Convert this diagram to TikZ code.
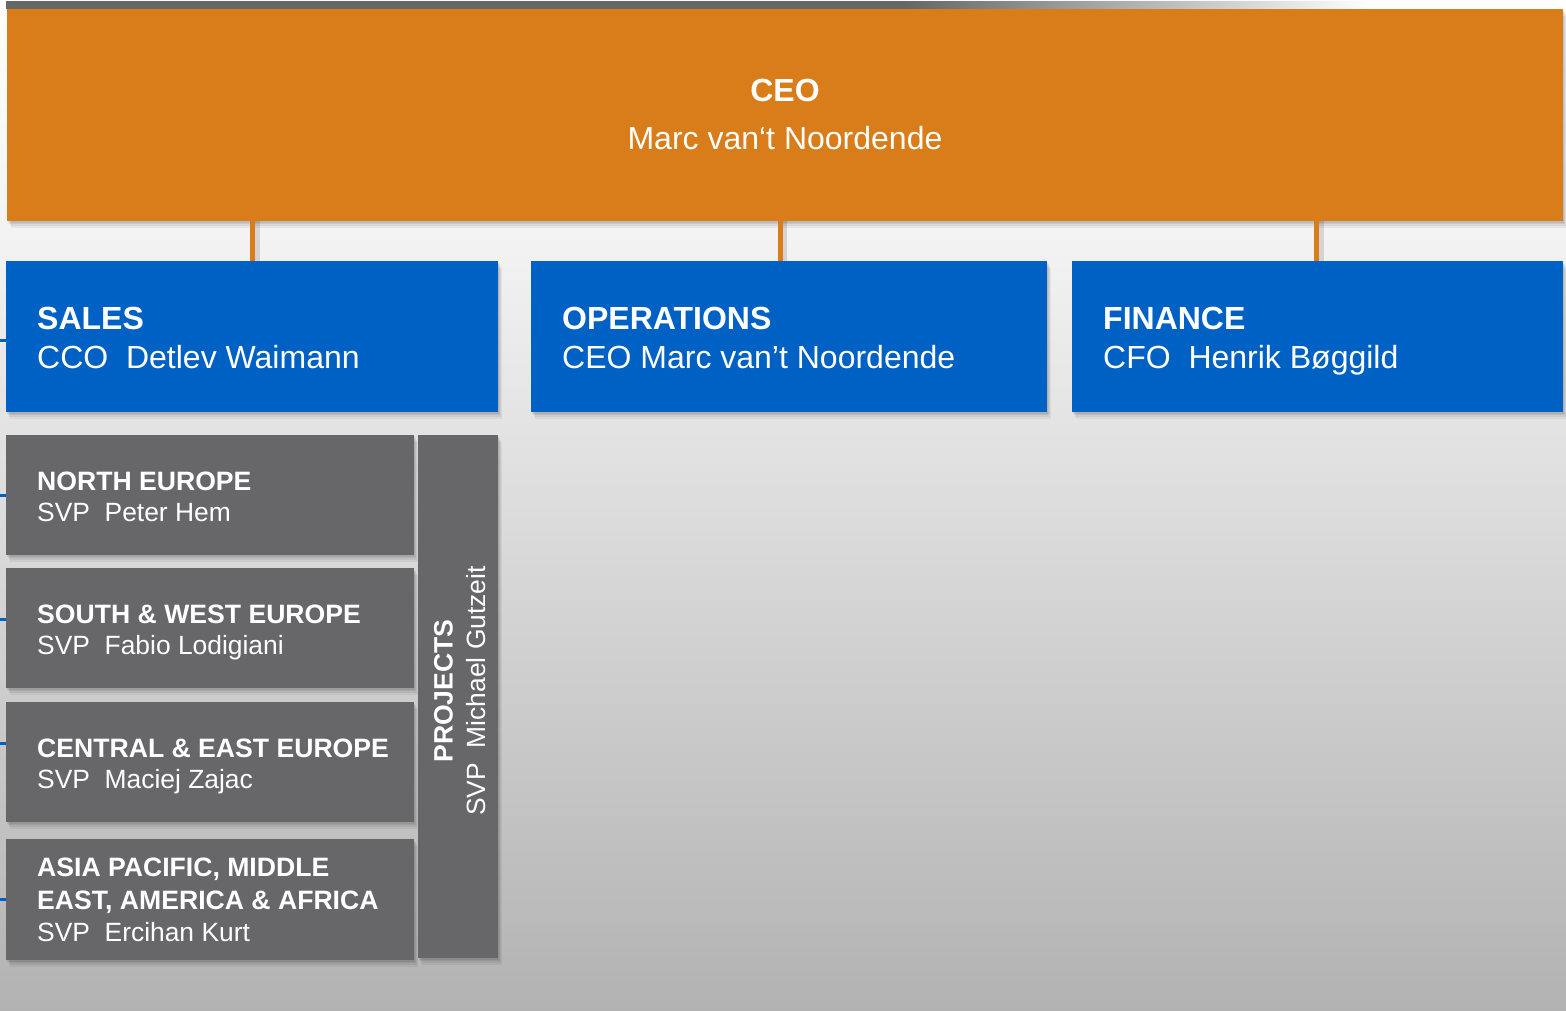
\documentclass[tikz,border=0pt]{standalone}
\usepackage{fontspec}
\setmainfont{Liberation Sans}
\usetikzlibrary{shadows,calc}
\definecolor{ceoorange}{HTML}{D97C1A}
\definecolor{deptblue}{HTML}{0061C4}
\definecolor{regiongray}{HTML}{67676A}
\definecolor{bgtop}{HTML}{F2F2F2}
\definecolor{bgbot}{HTML}{B2B2B2}
\definecolor{bargray}{HTML}{67676A}
\pgfdeclarehorizontalshading{barfade}{100bp}{color(0bp)=(bargray); color(58bp)=(bargray); color(75bp)=(white); color(100bp)=(white)}
\tikzset{
  softshadow/.style={
    general shadow={fill=black,opacity=0.07,shadow xshift=1pt,shadow yshift=-2pt},
    general shadow={fill=black,opacity=0.07,shadow xshift=2pt,shadow yshift=-3pt},
    general shadow={fill=black,opacity=0.06,shadow xshift=3pt,shadow yshift=-5pt},
    general shadow={fill=black,opacity=0.05,shadow xshift=4pt,shadow yshift=-7pt}},
  orgbox/.style={rectangle, inner sep=0pt, outer sep=0pt, anchor=north west, draw=none, softshadow},
  ceobox/.style={orgbox, fill=ceoorange},
  deptbox/.style={orgbox, fill=deptblue},
  regionbox/.style={orgbox, fill=regiongray},
  bigbold/.style={text=white, font=\fontsize{32}{38}\selectfont\bfseries, inner sep=0pt},
  bigname/.style={text=white, font=\fontsize{32}{38}\selectfont, inner sep=0pt},
  smallbold/.style={text=white, font=\fontsize{26.6}{31}\selectfont\bfseries, inner sep=0pt, anchor=base west},
  smallname/.style={text=white, font=\fontsize{26.4}{31}\selectfont, inner sep=0pt, anchor=base west},
  conn/.style={ceoorange, line width=5pt},
  connshadow/.style={black, opacity=0.12, line width=6pt},
  tickline/.style={deptblue, line width=3pt}
}
\begin{document}
\begin{tikzpicture}[x=1pt,y=-1pt]
\useasboundingbox (0,0) rectangle (1566,1011);
% background
\shade[top color=white, bottom color=bgtop] (0,0) rectangle (1566,250);
\shade[top color=bgtop, bottom color=bgbot] (0,250) rectangle (1566,1011);
% top bar
\shade[shading=barfade] (6,2) rectangle (1370,9);

\coordinate (opsTop) at (780,261);
\coordinate (salesTop) at (252.5,261);
\coordinate (finTop) at (1316.5,261);

% CEO box
\node[ceobox, minimum width=1556pt, minimum height=212pt] (ceo) at (7,9) {};
\node[bigbold, anchor=base] (ceoT1) at (785,101.5) {CEO};
\node[bigname, anchor=base] (ceoT2) at (785,149.3) {Marc van‘t Noordende};

% connector shadows
\draw[connshadow] ($(ceo.south -| salesTop)+(4,0)$) -- ($(salesTop)+(4,0)$);
\draw[connshadow] ($(ceo.south -| opsTop)+(4,0)$) -- ($(opsTop)+(4,0)$);
\draw[connshadow] ($(ceo.south -| finTop)+(4,0)$) -- ($(finTop)+(4,0)$);

% department boxes
\node[deptbox, minimum width=492pt, minimum height=151pt] (sales) at (6,261) {};
\node[deptbox, minimum width=516pt, minimum height=151pt] (ops) at (531,261) {};
\node[deptbox, minimum width=491pt, minimum height=151pt] (fin) at (1072,261) {};

\draw[conn] (ceo.south -| salesTop) -- (salesTop);
\draw[conn] (ceo.south -| opsTop) -- (opsTop);
\draw[conn] (ceo.south -| finTop) -- (finTop);

\node[bigbold, anchor=base west] (salesT1) at (37,329) {SALES};
\node[bigname, anchor=base west] (salesT2) at (37,368.5) {CCO\ \ Detlev Waimann};
\node[bigbold, anchor=base west] (opsT1) at (562,329) {OPERATIONS};
\node[bigname, anchor=base west] (opsT2) at (562,368.5) {CEO Marc van’t Noordende};
\node[bigbold, anchor=base west] (finT1) at (1103,329) {FINANCE};
\node[bigname, anchor=base west] (finT2) at (1103,368.5) {CFO\ \ Henrik Bøggild};

% region boxes
\node[regionbox, minimum width=408pt, minimum height=120pt] (north) at (6,435) {};
\node[regionbox, minimum width=408pt, minimum height=120pt] (south) at (6,568) {};
\node[regionbox, minimum width=408pt, minimum height=120pt] (central) at (6,702) {};
\node[regionbox, minimum width=408pt, minimum height=121pt] (asia) at (6,839) {};
\node[regionbox, minimum width=80pt, minimum height=523pt] (proj) at (418,435) {};

\node[smallbold] (northT1) at (37,490.7) {NORTH EUROPE};
\node[smallname] (northT2) at (37,521.7) {SVP\ \ Peter Hem};
\node[smallbold] (southT1) at (37,623.7) {SOUTH \& WEST EUROPE};
\node[smallname] (southT2) at (37,654.7) {SVP\ \ Fabio Lodigiani};
\node[smallbold] (centralT1) at (37,757.7) {CENTRAL \& EAST EUROPE};
\node[smallname] (centralT2) at (37,788.7) {SVP\ \ Maciej Zajac};
\node[smallbold] (asiaT1) at (37,876.7) {ASIA PACIFIC, MIDDLE};
\node[smallbold] (asiaT2) at (37,909.7) {EAST, AMERICA \& AFRICA};
\node[smallname] (asiaT3) at (37,941) {SVP\ \ Ercihan Kurt};

\node[smallbold, anchor=base, rotate=90] (projT1) at (452.7,691) {PROJECTS};
\node[smallname, anchor=base, rotate=90] (projT2) at (485,691) {SVP\ \ Michael Gutzeit};

% left ticks
\coordinate (tkSales) at (0,340);
\coordinate (tkNorth) at (0,495);
\coordinate (tkSouth) at (0,619);
\coordinate (tkCentral) at (0,743);
\coordinate (tkAsia) at (0,899);
\draw[tickline] (tkSales) -- (tkSales -| sales.west);
\draw[tickline] (tkNorth) -- (tkNorth -| north.west);
\draw[tickline] (tkSouth) -- (tkSouth -| south.west);
\draw[tickline] (tkCentral) -- (tkCentral -| central.west);
\draw[tickline] (tkAsia) -- (tkAsia -| asia.west);
\end{tikzpicture}
\end{document}
